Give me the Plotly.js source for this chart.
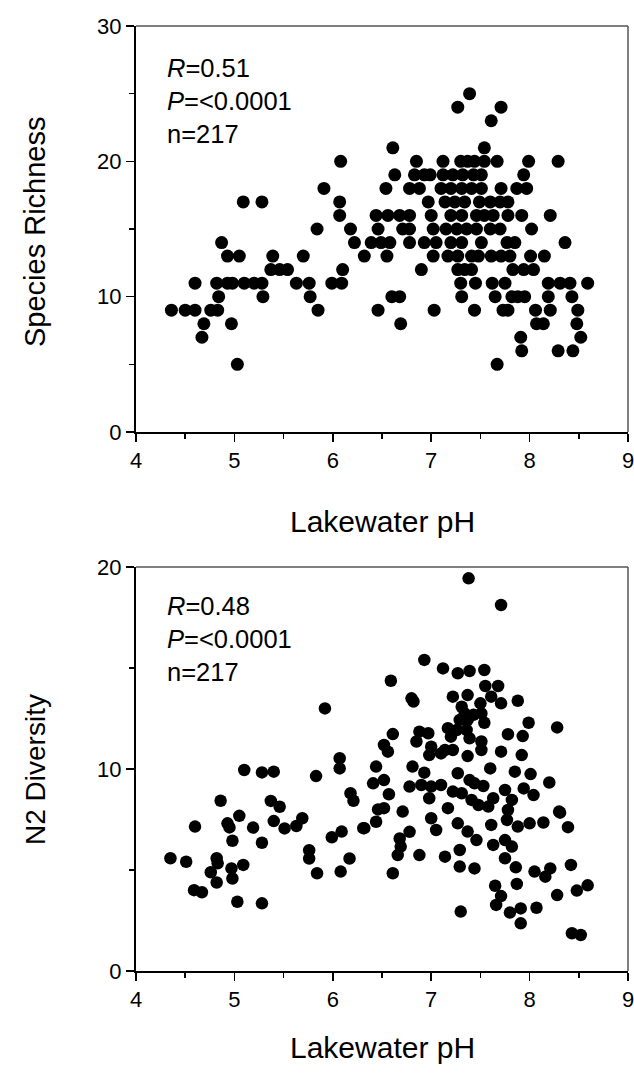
<!DOCTYPE html>
<html>
<head>
<meta charset="utf-8">
<script src="https://cdn.plot.ly/plotly-3.0.1.min.js"></script>
<style>html,body{margin:0;padding:0;background:#fff;}</style>
</head>
<body>
<div id="chart" style="width:634px;height:1077px;"></div>
<script>
// ---- Top panel: species richness vs lakewater pH ----
const richPH = [
  7.39,
  7.27, 7.71,
  7.61,
  6.61, 7.54,
  6.08, 6.85, 7.12, 7.30, 7.37, 7.44, 7.54, 7.67, 7.99, 8.29,
  6.63, 6.83, 6.93, 6.99, 7.12, 7.22, 7.32, 7.43, 7.51, 7.94,
  5.91, 6.54, 6.78, 6.88, 7.10, 7.20, 7.31, 7.41, 7.51, 7.71, 7.87, 7.97,
  5.09, 5.28, 6.07, 6.97, 7.14, 7.24, 7.34, 7.49, 7.60, 7.70, 7.78,
  6.07, 6.44, 6.56, 6.68, 6.78, 7.00, 7.20, 7.31, 7.46, 7.54, 7.63, 7.78, 7.92, 8.21,
  5.84, 6.18, 6.46, 6.71, 6.78, 7.02, 7.15, 7.26, 7.36, 7.46, 7.60, 7.70, 8.02,
  4.87, 6.22, 6.39, 6.49, 6.58, 6.78, 6.93, 7.05, 7.20, 7.31, 7.51, 7.77, 7.85, 8.36,
  4.93, 5.05, 5.39, 5.70, 6.32, 6.55, 7.02, 7.17, 7.27, 7.41, 7.48, 7.61, 7.71, 7.80, 8.01, 8.15,
  5.37, 5.46, 5.54, 6.10, 6.90, 7.27, 7.34, 7.41, 7.83, 7.94, 8.04,
  4.60, 4.82, 4.93, 4.98, 5.10, 5.20, 5.28, 5.63, 5.76, 5.99, 6.09, 7.30, 7.45, 7.62, 7.75, 8.19, 8.31, 8.41, 8.59,
  4.84, 5.29, 5.77, 6.60, 6.68, 7.31, 7.65, 7.82, 7.88, 7.95, 8.19, 8.43,
  4.36, 4.50, 4.60, 4.76, 4.83, 5.85, 6.46, 7.03, 7.44, 7.73, 7.78, 8.06, 8.21, 8.49,
  4.69, 4.97, 6.69, 8.07, 8.14, 8.48,
  4.67, 7.91, 8.52,
  7.92, 8.29, 8.44,
  5.03, 7.67
];
const richness = [
  25,
  24, 24,
  23,
  21, 21,
  20, 20, 20, 20, 20, 20, 20, 20, 20, 20,
  19, 19, 19, 19, 19, 19, 19, 19, 19, 19,
  18, 18, 18, 18, 18, 18, 18, 18, 18, 18, 18, 18,
  17, 17, 17, 17, 17, 17, 17, 17, 17, 17, 17,
  16, 16, 16, 16, 16, 16, 16, 16, 16, 16, 16, 16, 16, 16,
  15, 15, 15, 15, 15, 15, 15, 15, 15, 15, 15, 15, 15,
  14, 14, 14, 14, 14, 14, 14, 14, 14, 14, 14, 14, 14, 14,
  13, 13, 13, 13, 13, 13, 13, 13, 13, 13, 13, 13, 13, 13, 13, 13,
  12, 12, 12, 12, 12, 12, 12, 12, 12, 12, 12,
  11, 11, 11, 11, 11, 11, 11, 11, 11, 11, 11, 11, 11, 11, 11, 11, 11, 11, 11,
  10, 10, 10, 10, 10, 10, 10, 10, 10, 10, 10, 10,
  9, 9, 9, 9, 9, 9, 9, 9, 9, 9, 9, 9, 9, 9,
  8, 8, 8, 8, 8, 8,
  7, 7, 7,
  6, 6, 6,
  5, 5
];

// ---- Bottom panel: N2 diversity vs lakewater pH ----
const n2PH = [
  5.92, 6.07, 6.07, 5.10, 5.28, 5.40, 5.83, 4.86, 5.37, 5.46,
  6.18, 6.21, 5.05, 4.60, 4.93, 4.95, 5.19, 5.40, 5.51, 5.63,
  5.69, 5.99, 6.09, 6.31, 4.98, 5.28, 5.76, 5.76, 6.17, 4.35,
  4.51, 4.82, 4.83, 4.76, 4.82, 4.97, 4.98, 5.09, 5.84, 6.08,
  4.59, 4.67, 5.03, 5.28,
  7.38, 7.71, 6.93, 7.12, 7.27, 7.39, 7.54, 6.59, 7.55, 7.68,
  7.61, 6.80, 6.82, 7.22, 7.37, 7.71, 7.50, 7.88, 7.31, 7.34,
  7.43, 7.29, 7.37, 7.51, 7.54, 7.99, 8.28, 7.17, 7.26, 7.36,
  6.61, 6.88, 6.97, 7.78, 7.93, 7.20, 7.39, 6.52, 6.85, 7.00,
  6.56, 7.14, 7.22, 7.51, 7.51, 7.71, 7.92, 7.37, 6.98, 7.10,
  6.44, 6.81, 6.93, 7.27, 7.60, 7.85, 8.01, 7.39, 7.44, 6.41,
  6.52, 6.78, 6.90, 7.00, 7.10, 7.53, 7.75, 7.94, 8.04, 8.20,
  6.57, 7.22, 7.31, 6.98, 7.41, 7.48, 7.58, 7.63, 7.82, 7.78,
  7.77, 7.17, 6.46, 6.52, 6.71, 8.31, 6.44, 7.00, 7.05, 7.27,
  7.37, 7.46, 7.61, 7.88, 8.00, 8.14, 6.32, 6.68, 6.78, 6.69,
  7.63, 7.75, 7.82, 6.88, 7.14, 7.29, 7.75, 6.66, 7.29, 7.44,
  7.86, 8.05, 8.16, 8.21, 8.42, 6.61, 7.65, 7.87, 7.71, 7.66,
  7.80, 7.91, 7.91, 8.07, 8.28, 8.48, 8.59, 7.30, 8.43, 8.52,
  8.30, 8.39
];
const n2Diversity = [
  13.0, 10.53, 10.03, 9.95, 9.83, 9.87, 9.65, 8.43, 8.42, 8.13,
  8.80, 8.43, 7.68, 7.15, 7.31, 7.11, 7.10, 7.42, 7.06, 7.18,
  7.56, 6.62, 6.90, 7.07, 6.45, 6.35, 5.98, 5.57, 5.57, 5.58,
  5.41, 5.58, 5.33, 4.89, 4.38, 5.08, 4.58, 5.25, 4.84, 4.92,
  4.00, 3.90, 3.43, 3.35,
  19.44, 18.12, 15.40, 14.98, 14.74, 14.85, 14.90, 14.37, 14.11, 14.11,
  13.58, 13.50, 13.34, 13.58, 13.66, 13.25, 13.25, 13.38, 13.08, 12.75,
  12.68, 12.43, 12.43, 12.75, 12.29, 12.29, 12.06, 12.02, 11.93, 11.93,
  11.73, 11.85, 11.77, 11.72, 11.63, 11.60, 11.52, 11.19, 11.36, 11.10,
  10.86, 10.94, 10.94, 11.36, 10.94, 10.86, 10.69, 10.64, 10.69, 10.77,
  10.12, 10.12, 9.82, 9.79, 10.03, 9.87, 9.75, 9.45, 9.29, 9.29,
  9.45, 9.13, 9.21, 9.13, 9.21, 9.16, 8.96, 9.04, 8.71, 9.33,
  8.75, 8.88, 8.80, 8.55, 8.47, 8.22, 8.14, 8.55, 8.47, 7.97,
  7.48, 8.06, 8.00, 8.06, 7.89, 7.84, 7.39, 7.56, 6.98, 7.31,
  6.90, 6.48, 7.23, 7.15, 7.31, 7.35, 7.07, 6.56, 6.89, 6.16,
  6.24, 6.48, 6.16, 5.74, 5.66, 5.99, 5.58, 5.74, 5.17, 5.08,
  5.13, 4.92, 4.67, 5.08, 5.25, 4.84, 4.22, 4.31, 3.71, 3.27,
  2.89, 3.10, 2.36, 3.13, 3.76, 3.98, 4.24, 2.94, 1.87, 1.78,
  7.89, 7.12
];

const xTickVals = [4, 5, 6, 7, 8, 9];
const richTickVals = [0, 10, 20, 30];
const n2TickVals = [0, 10, 20];

const FONT = 'Liberation Sans, Arial, Helvetica, sans-serif';
const W = 634, H = 1077;
const px = v => v / W;
const py = v => 1 - v / H;

function xAxis(anchor) {
  return {
    domain: [px(136), px(628)], anchor: anchor, range: [4, 9],
    tickmode: 'array', tickvals: xTickVals,
    ticks: 'outside', ticklen: 8, tickwidth: 1.5, tickcolor: '#000',
    minor: {dtick: 0.5, tick0: 4, ticks: 'outside', ticklen: 5, tickwidth: 1.5, tickcolor: '#000', showgrid: false},
    showline: true, linewidth: 2, linecolor: '#000',
    showgrid: false, zeroline: false, ticklabeloverflow: 'allow',
    tickfont: {size: 22, family: FONT, color: '#000'}
  };
}
function yAxis(anchor, dom, rng, vals) {
  return {
    domain: dom, anchor: anchor, range: rng,
    tickmode: 'array', tickvals: vals,
    ticks: 'outside', ticklen: 8, tickwidth: 1.5, tickcolor: '#000',
    minor: {dtick: 5, tick0: 0, ticks: 'outside', ticklen: 5, tickwidth: 1.5, tickcolor: '#000', showgrid: false},
    showline: true, linewidth: 2, linecolor: '#000',
    showgrid: false, zeroline: false, ticklabeloverflow: 'allow',
    tickfont: {size: 22, family: FONT, color: '#000'}
  };
}

const traces = [
  {x: richPH, y: richness, xaxis: 'x', yaxis: 'y', type: 'scatter', mode: 'markers',
   marker: {color: '#000', size: 13}, cliponaxis: false, hoverinfo: 'x+y'},
  {x: n2PH, y: n2Diversity, xaxis: 'x2', yaxis: 'y2', type: 'scatter', mode: 'markers',
   marker: {color: '#000', size: 12.5}, cliponaxis: false, hoverinfo: 'x+y'}
];

const borderLine = {color: '#555', width: 1.5};
const layout = {
  width: W, height: H,
  margin: {l: 0, r: 0, t: 0, b: 0},
  paper_bgcolor: '#fff', plot_bgcolor: '#fff',
  showlegend: false,
  font: {family: FONT, color: '#000'},
  xaxis: xAxis('y'),
  yaxis: yAxis('x', [py(432), py(26)], [0, 30], richTickVals),
  xaxis2: xAxis('y2'),
  yaxis2: yAxis('x2', [py(971), py(567)], [0, 20], n2TickVals),
  shapes: [
    {type: 'line', xref: 'x domain', yref: 'y domain', x0: 0, x1: 1, y0: 1, y1: 1, line: borderLine},
    {type: 'line', xref: 'x domain', yref: 'y domain', x0: 1, x1: 1, y0: 0, y1: 1, line: borderLine},
    {type: 'line', xref: 'x2 domain', yref: 'y2 domain', x0: 0, x1: 1, y0: 1, y1: 1, line: borderLine},
    {type: 'line', xref: 'x2 domain', yref: 'y2 domain', x0: 1, x1: 1, y0: 0, y1: 1, line: borderLine}
  ],
  annotations: [
    {text: 'Species Richness', xref: 'paper', yref: 'paper', x: px(35), y: py(232),
     textangle: -90, showarrow: false, font: {size: 29, family: FONT}, xanchor: 'center', yanchor: 'middle'},
    {text: 'Lakewater pH', xref: 'paper', yref: 'paper', x: px(382), y: py(521),
     showarrow: false, font: {size: 30, family: FONT}, xanchor: 'center', yanchor: 'middle'},
    {text: 'N2 Diversity', xref: 'paper', yref: 'paper', x: px(35), y: py(770),
     textangle: -90, showarrow: false, font: {size: 28, family: FONT}, xanchor: 'center', yanchor: 'middle'},
    {text: 'Lakewater pH', xref: 'paper', yref: 'paper', x: px(382), y: py(1047),
     showarrow: false, font: {size: 30, family: FONT}, xanchor: 'center', yanchor: 'middle'},
    {text: '<i>R</i>=0.51<br><i>P</i>=&lt;0.0001<br>n=217', xref: 'paper', yref: 'paper',
     x: px(165), y: py(101), xanchor: 'left', yanchor: 'middle', align: 'left',
     showarrow: false, font: {size: 25.5, family: FONT}},
    {text: '<i>R</i>=0.48<br><i>P</i>=&lt;0.0001<br>n=217', xref: 'paper', yref: 'paper',
     x: px(165), y: py(639), xanchor: 'left', yanchor: 'middle', align: 'left',
     showarrow: false, font: {size: 25.5, family: FONT}}
  ]
};

Plotly.newPlot('chart', traces, layout, {displayModeBar: false, staticPlot: true});
</script>
</body>
</html>
